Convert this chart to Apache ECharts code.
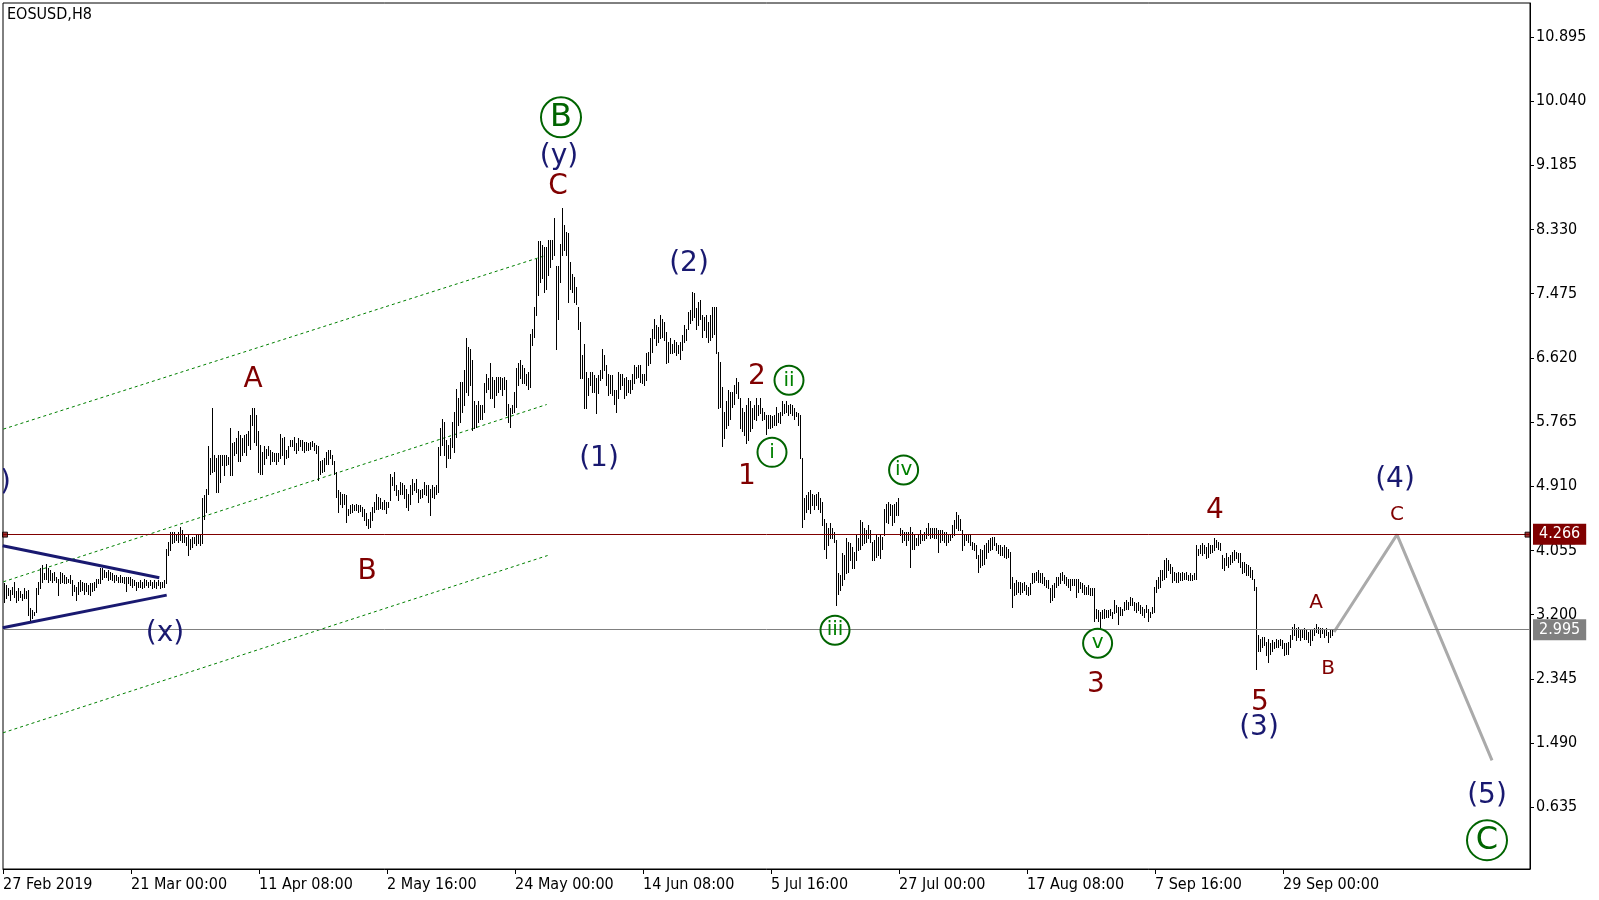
<!DOCTYPE html>
<html>
<head>
<meta charset="utf-8">
<title>EOSUSD,H8</title>
<script src="https://cdn.jsdelivr.net/npm/echarts@6.0.0/dist/echarts.min.js"></script>
<style>
html, body { margin: 0; padding: 0; background: #fff; }
#chart { width: 1599px; height: 900px; }
</style>
</head>
<body>
<div id="chart"></div>
<script>
'use strict';

// time axis labels, one every 64 bars (H8)
var tickLabels = ['27 Feb 2019', '21 Mar 00:00', '11 Apr 08:00', '2 May 16:00', '24 May 00:00',
    '14 Jun 08:00', '5 Jul 16:00', '27 Jul 00:00', '17 Aug 08:00', '7 Sep 16:00', '29 Sep 00:00'];
var priceTicks = [0.635, 1.490, 2.345, 3.200, 4.055, 4.910, 5.765, 6.620, 7.475, 8.330, 9.185, 10.040, 10.895];

// bar highs / lows
var barHigh = [
    3.62,3.59,3.55,3.53,3.57,3.64,3.51,3.55,3.51,3.48,
    3.55,3.51,3.53,3.29,3.26,3.24,3.55,3.64,3.82,3.86,
    3.75,3.88,3.82,3.79,3.75,3.77,3.70,3.68,3.77,3.75,
    3.73,3.70,3.68,3.73,3.66,3.59,3.57,3.64,3.66,3.64,
    3.62,3.62,3.59,3.62,3.62,3.64,3.68,3.68,3.82,3.82,
    3.79,3.77,3.79,3.77,3.75,3.73,3.73,3.70,3.73,3.70,
    3.70,3.70,3.70,3.70,3.68,3.66,3.64,3.64,3.66,3.64,
    3.68,3.66,3.64,3.66,3.64,3.66,3.64,3.66,3.64,3.64,
    3.66,4.08,4.17,4.30,4.30,4.30,4.28,4.30,4.37,4.33,
    4.28,4.24,4.26,4.21,4.24,4.24,4.26,4.26,4.26,4.75,
    4.79,4.88,5.44,5.28,5.95,5.32,5.28,5.32,5.32,5.32,
    5.32,5.32,5.30,5.68,5.48,5.50,5.55,5.64,5.59,5.55,
    5.59,5.61,5.64,5.86,5.95,5.95,5.86,5.64,5.46,5.37,
    5.44,5.41,5.44,5.39,5.37,5.35,5.35,5.35,5.61,5.55,
    5.57,5.39,5.44,5.52,5.52,5.57,5.48,5.55,5.52,5.52,
    5.50,5.50,5.48,5.50,5.51,5.48,5.46,5.44,5.24,5.26,
    5.28,5.37,5.39,
    5.39,5.33,5.24,5.10,4.86,4.84,4.81,4.81,4.79,4.61,
    4.66,4.68,4.66,4.67,4.66,4.66,4.64,4.61,4.55,4.48,
    4.57,4.64,4.70,4.81,4.77,4.75,4.70,4.73,4.70,4.70,
    5.08,5.04,5.10,4.93,4.86,4.97,4.95,4.93,4.88,4.81,
    4.93,5.01,4.95,5.01,4.88,4.86,4.88,4.97,4.93,4.93,
    4.88,4.93,4.90,4.93,5.43,5.68,5.81,5.77,5.52,5.46,
    5.55,5.77,5.90,6.21,6.08,6.30,6.30,6.46,6.88,6.77,
    6.74,6.59,6.04,5.99,6.04,5.99,5.99,6.28,6.41,6.35,
    6.55,6.37,6.32,6.37,6.37,6.37,6.35,6.37,6.32,6.01,
    5.95,5.99,6.17,6.48,6.55,6.59,6.52,6.48,6.41,6.43,
    6.94,7.01,7.30,7.94,8.17,8.17,8.12,8.10,8.10,8.19,
    8.19,8.19,8.48,7.85,7.85,8.14,8.61,8.39,8.30,8.28,
    7.90,7.74,7.70,7.57,7.30,7.10,6.66,6.81,6.43,6.35,
    6.43,6.43,6.39,6.35,6.39,6.46,6.74,6.66,6.52,6.41,
    6.39,6.39,6.19,6.19,6.43,6.41,6.41,6.35,6.37,6.32,
    6.32,6.41,6.52,6.50,6.52,6.52,6.41,6.41,6.68,6.70,
    6.88,7.01,7.14,7.06,7.03,
    7.19,7.14,7.10,6.97,6.83,6.88,6.81,6.86,6.83,6.79,
    6.83,6.92,7.06,7.01,7.23,7.26,7.50,7.48,7.28,7.37,
    7.39,7.19,7.17,7.19,7.10,7.19,7.30,7.30,7.30,6.70,
    6.57,6.23,5.90,6.04,6.19,6.17,6.17,6.26,6.35,6.30,
    6.08,5.95,5.90,5.99,6.08,6.04,5.95,5.99,6.08,5.99,
    6.08,5.95,5.90,5.86,5.86,5.86,5.84,5.86,5.97,5.88,
    5.90,6.04,6.01,6.04,5.99,6.01,5.99,5.95,5.90,5.88,
    5.86,5.28,4.75,4.79,4.84,4.86,4.81,4.79,4.81,4.84,
    4.75,4.70,4.48,4.42,4.35,4.42,4.35,4.30,4.19,3.75,
    3.73,4.02,3.99,4.22,4.17,4.15,4.10,4.04,4.28,4.22,
    4.46,4.44,4.35,4.33,4.39,4.33,4.17,4.19,4.26,4.24,
    4.26,4.24,4.61,4.68,4.70,4.68,4.66,4.68,4.70,4.75,
    4.35,4.33,4.30,4.30,4.30,4.37,4.30,4.26,4.22,4.28,
    4.33,4.28,4.30,4.35,4.42,4.35,4.35,4.35,4.35,4.33,
    4.33,4.33,4.30,4.30,4.28,4.28,4.39,4.46,4.57,4.53,
    4.48,4.33,4.28,4.26,4.28,4.26,4.17,4.15,4.13,3.99,
    4.08,4.06,4.13,4.15,4.19,
    4.22,4.24,4.24,4.15,4.13,4.13,4.10,4.13,4.10,4.08,
    4.04,3.70,3.62,3.66,3.64,3.64,3.62,3.64,3.59,3.57,
    3.62,3.75,3.75,3.77,3.79,3.75,3.75,3.70,3.66,3.66,
    3.55,3.59,3.62,3.70,3.70,3.75,3.77,3.73,3.70,3.68,
    3.68,3.68,3.68,3.68,3.68,3.64,3.62,3.59,3.57,3.59,
    3.55,3.55,3.55,3.28,3.26,3.24,3.26,3.28,3.26,3.26,
    3.28,3.24,3.39,3.33,3.30,3.30,3.28,3.37,3.39,3.37,
    3.44,3.42,3.37,3.35,3.37,3.33,3.30,3.28,3.33,3.28,
    3.24,3.30,3.57,3.66,3.70,3.79,3.79,3.93,3.95,3.93,
    3.88,3.84,3.77,3.75,3.77,3.75,3.77,3.75,3.77,3.73,
    3.75,3.73,3.75,4.13,4.08,4.13,4.15,4.13,4.10,4.15,
    4.13,4.13,4.22,4.19,4.17,4.15,3.99,3.95,4.02,3.97,
    3.99,4.04,4.06,4.04,4.02,4.02,3.90,3.90,3.88,3.86,
    3.84,3.79,3.68,3.57,2.93,2.88,2.90,2.90,2.84,2.88,
    2.82,2.86,2.84,2.88,2.86,2.88,2.86,2.82,2.82,2.84,
    2.93,3.04,3.08,3.02,3.04,2.99,2.99,3.02,2.99,2.97,
    2.99,2.99,3.02,3.08,3.04,
    3.02,3.02,2.99,3.02,2.97,2.99,2.99
];
var barLow = [
    3.37,3.42,3.46,3.39,3.48,3.44,3.37,3.39,3.44,3.39,
    3.42,3.42,3.19,3.13,3.15,3.19,3.24,3.48,3.55,3.64,
    3.68,3.68,3.64,3.66,3.64,3.66,3.64,3.46,3.62,3.64,
    3.62,3.62,3.64,3.62,3.46,3.51,3.39,3.48,3.51,3.53,
    3.48,3.51,3.48,3.46,3.51,3.53,3.57,3.62,3.62,3.68,
    3.70,3.70,3.66,3.68,3.66,3.64,3.66,3.64,3.64,3.64,
    3.62,3.51,3.62,3.59,3.57,3.59,3.53,3.57,3.57,3.55,
    3.57,3.59,3.57,3.59,3.55,3.57,3.55,3.59,3.55,3.57,
    3.57,3.62,3.99,4.06,4.15,4.17,4.19,4.17,4.19,4.17,
    4.17,4.13,3.99,4.08,4.10,4.15,4.13,4.15,4.13,4.15,
    4.48,4.57,4.81,5.08,5.10,5.12,4.84,4.84,4.97,5.19,
    5.06,5.19,5.21,5.06,5.06,5.32,5.35,5.24,5.24,5.32,
    5.37,5.32,5.46,5.41,5.72,5.50,5.46,5.10,5.08,5.08,
    5.21,5.28,5.32,5.21,5.24,5.24,5.21,5.24,5.28,5.32,
    5.21,5.28,5.30,5.44,5.44,5.39,5.35,5.39,5.44,5.39,
    5.37,5.39,5.39,5.41,5.44,5.39,5.35,4.99,5.08,5.10,
    5.12,5.21,5.21,
    5.28,5.21,5.08,4.77,4.57,4.68,4.64,4.68,4.44,4.53,
    4.55,4.57,4.59,4.59,4.57,4.58,4.51,4.46,4.39,4.35,
    4.37,4.46,4.57,4.61,4.61,4.62,4.61,4.61,4.55,4.64,
    4.73,4.93,4.86,4.79,4.73,4.81,4.81,4.75,4.64,4.59,
    4.68,4.81,4.86,4.84,4.70,4.75,4.77,4.81,4.79,4.70,
    4.53,4.77,4.75,4.81,4.84,5.32,5.46,5.32,5.17,5.28,
    5.28,5.43,5.37,5.57,5.72,5.77,5.90,5.99,6.17,6.12,
    6.26,5.66,5.68,5.70,5.77,5.81,5.81,5.90,6.17,6.21,
    6.08,6.08,5.97,6.12,6.17,6.21,6.12,6.21,5.86,5.77,
    5.70,5.88,5.90,5.97,6.26,6.35,6.28,6.28,6.26,6.21,
    6.23,6.79,6.90,7.19,7.46,7.63,7.68,7.50,7.54,7.72,
    7.83,7.94,7.99,6.74,7.14,7.63,7.99,8.05,7.99,7.37,
    7.54,7.50,7.37,7.34,7.01,6.35,6.35,5.95,5.95,6.12,
    6.26,6.17,6.17,5.88,6.15,6.32,6.35,6.46,6.26,6.12,
    6.15,6.12,6.01,5.90,6.08,6.21,6.26,6.08,6.12,6.17,
    6.15,6.21,6.28,6.35,6.37,6.30,6.28,6.26,6.32,6.52,
    6.55,6.70,6.88,6.79,6.83,
    6.88,6.90,6.86,6.55,6.57,6.68,6.68,6.70,6.66,6.68,
    6.61,6.72,6.83,6.86,7.01,7.08,7.12,7.17,7.01,7.06,
    7.14,6.90,6.99,6.90,6.83,6.86,6.90,6.94,6.68,5.95,
    5.97,5.44,5.55,5.68,5.72,5.81,5.97,6.01,6.15,6.08,
    5.68,5.64,5.59,5.48,5.52,5.64,5.68,5.81,5.79,5.86,
    5.88,5.79,5.81,5.61,5.68,5.68,5.70,5.72,5.72,5.77,
    5.75,5.86,5.88,5.90,5.86,5.88,5.86,5.81,5.84,5.72,
    5.28,4.37,4.48,4.57,4.61,4.55,4.66,4.61,4.66,4.61,
    4.57,4.39,4.08,3.95,4.13,4.22,4.22,4.17,3.33,3.48,
    3.53,3.59,3.68,3.75,3.77,3.93,3.82,3.82,3.93,4.06,
    4.08,4.13,4.15,4.17,4.22,4.17,3.93,3.93,3.97,3.99,
    3.95,4.08,4.26,4.44,4.42,4.53,4.39,4.44,4.53,4.53,
    4.26,4.17,4.19,4.13,4.19,3.84,4.08,4.08,4.13,4.13,
    4.15,4.19,4.19,4.22,4.26,4.22,4.24,4.22,4.22,4.04,
    4.17,4.19,4.17,4.13,4.17,4.19,4.24,4.26,4.35,4.33,
    4.33,4.06,4.13,4.19,4.17,4.13,4.08,4.06,3.95,3.77,
    3.84,3.86,3.88,3.95,4.04,
    4.06,4.08,4.13,4.06,4.02,3.99,3.99,3.97,3.95,3.97,
    3.55,3.30,3.46,3.48,3.50,3.48,3.50,3.53,3.48,3.46,
    3.48,3.62,3.64,3.66,3.64,3.64,3.62,3.59,3.57,3.55,
    3.37,3.39,3.44,3.57,3.59,3.62,3.66,3.62,3.59,3.57,
    3.53,3.59,3.59,3.44,3.50,3.55,3.50,3.48,3.48,3.48,
    3.46,3.46,3.11,3.15,3.11,3.04,3.15,3.15,3.17,3.17,
    3.19,3.15,3.22,3.24,3.08,3.19,3.19,3.26,3.28,3.28,
    3.33,3.33,3.26,3.24,3.26,3.22,3.19,3.17,3.24,3.11,
    3.17,3.22,3.24,3.50,3.55,3.57,3.66,3.68,3.70,3.79,
    3.75,3.64,3.66,3.64,3.64,3.66,3.66,3.68,3.68,3.66,
    3.66,3.66,3.68,3.68,3.99,4.02,3.99,4.02,3.95,3.97,
    4.02,4.04,4.06,4.10,4.08,4.06,3.82,3.79,3.86,3.84,
    3.88,3.90,3.93,3.95,3.90,3.84,3.75,3.77,3.73,3.73,
    3.70,3.68,3.53,2.48,2.71,2.71,2.77,2.80,2.66,2.57,
    2.68,2.71,2.75,2.77,2.77,2.80,2.75,2.66,2.68,2.68,
    2.77,2.88,2.93,2.86,2.90,2.86,2.90,2.88,2.88,2.84,
    2.80,2.86,2.93,2.97,2.95,
    2.90,2.95,2.90,2.93,2.84,2.90,2.93
];

var levelPrice = 4.266;   // horizontal line
var bidPrice = 2.995;     // current bid

// drawn objects: [bar index, price]
var forecastPath = [[665, 2.97], [696.5, 4.266], [744, 1.26]];
var triangleUpper = [[-0.65, 4.117], [77.65, 3.691]];
var triangleLower = [[-0.65, 3.026], [81.35, 3.46]];
var channelTop = [[-0.35, 5.671], [271.35, 7.988]];
var channelMid = [[-0.35, 3.638], [271.35, 5.999]];
var channelLow = [[-0.5, 1.627], [271.8, 3.988]];
var lineAnchors = [[0.5, 4.266], [761.75, 4.266]];

// wave marks
var waveText = ['B', '(y)', 'C', 'A', 'B', '(x)', '(w)', '(2)', '(1)', '2', 'ii', 'i', '1', 'iv', 'iii',
    'v', '3', '4', '5', '(3)', 'A', 'B', '(4)', 'C', '(5)', 'C'];
var waveX = [278.5, 277.5, 277, 124.5, 181.5, 80.5, 3.5, 342.5, 297.5, 376.5, 392.5, 384, 371.5, 449.8, 415.5,
    546.8, 546, 605.5, 628, 627.5, 656, 662, 695.5, 696.5, 741.5, 741.5];
var waveY = [9.823, 9.304, 8.904, 6.334, 3.778, 2.952, 4.963, 7.879, 5.282, 6.374, 6.321, 5.362, 5.043, 5.127, 2.992,
    2.819, 2.273, 4.590, 2.034, 1.701, 3.352, 2.473, 5.003, 4.524, 0.795, 0.196];
var waveKind = ['circled', 'navy', 'red', 'red', 'red', 'navy', 'edge', 'navy', 'navy', 'red', 'roman', 'roman', 'red', 'roman', 'roman',
    'roman', 'red', 'red', 'red', 'navy', 'redSmall', 'redSmall', 'navy', 'redSmall', 'navy', 'circled'];

var labelStyle = {
    navy: { color: '#191970', size: 28 },
    edge: { color: '#191970', size: 28, align: 'right' },
    red: { color: '#800000', size: 28 },
    redSmall: { color: '#800000', size: 20 },
    roman: { color: '#008000', size: 20, r: 14.5 },
    circled: { color: '#006400', size: 32, r: 20 }
};

var axisFont = '"DejaVu Sans Condensed", "Liberation Sans", sans-serif';

var renderBar = function(params, api) {
    var top = api.coord([api.value(0), api.value(1)]);
    var bottom = api.coord([api.value(0), api.value(2)]);
    var x = Math.round(top[0]) + 0.5;
    return {
        type: 'line',
        shape: { x1: x, y1: Math.round(top[1]), x2: x, y2: Math.round(bottom[1]) + 1 },
        style: { stroke: '#000', lineWidth: 1 }
    };
};

var renderWave = function(params, api) {
    var k = params.dataIndex;
    var pt = api.coord([api.value(0), api.value(1)]);
    var st = labelStyle[waveKind[k]];
    var children = [];
    if (st.r) {
        children.push({
            type: 'circle',
            shape: { cx: pt[0], cy: pt[1], r: st.r },
            style: { fill: 'none', stroke: '#006400', lineWidth: 2 }
        });
    }
    children.push({
        type: 'text',
        x: pt[0],
        y: pt[1],
        style: {
            text: waveText[k],
            fill: st.color,
            fontSize: st.size,
            fontFamily: 'DejaVu Sans',
            align: st.align || 'center',
            verticalAlign: 'middle'
        }
    });
    return { type: 'group', children: children };
};

var guideLine = function(data, color, width, type) {
    return {
        type: 'line',
        data: data,
        symbol: 'none',
        silent: true,
        lineStyle: { color: color, width: width, type: type },
        z: 2
    };
};

var priceTag = function(price, color) {
    return {
        yAxis: price,
        lineStyle: { color: color, width: 1, type: 'solid' },
        label: {
            show: true,
            position: 'end',
            distance: 3,
            formatter: price.toFixed(3),
            backgroundColor: color,
            color: '#fff',
            padding: [3, 6, 2, 6],
            fontFamily: axisFont,
            fontSize: 16
        }
    };
};

var xTicks = tickLabels.map(function(t, k) { return -0.5 + 64 * k; });

var myChart = echarts.init(document.getElementById('chart'));
var option = {
    animation: false,
    backgroundColor: '#fff',
    title: {
        text: 'EOSUSD,H8',
        left: 7,
        top: 7,
        padding: 0,
        textStyle: { fontSize: 16, fontWeight: 'normal', color: '#000', fontFamily: axisFont }
    },
    grid: {
        left: 3, right: 69, top: 3, bottom: 31,
        show: true, borderColor: '#000', borderWidth: 1, backgroundColor: '#fff'
    },
    xAxis: {
        type: 'value',
        min: -0.5,
        max: 763,
        axisLine: { show: true, onZero: false, lineStyle: { color: '#000', width: 1 } },
        axisTick: { show: true, customValues: xTicks, length: 5, lineStyle: { color: '#000' } },
        axisLabel: {
            customValues: xTicks,
            align: 'left',
            margin: 8,
            color: '#000',
            fontFamily: axisFont,
            fontSize: 16,
            formatter: function(v) {
                return tickLabels[Math.round((v + 0.5) / 64)] || '';
            }
        },
        splitLine: { show: false }
    },
    yAxis: {
        type: 'value',
        position: 'right',
        min: -0.187,
        max: 11.346,
        axisLine: { show: true, onZero: false, lineStyle: { color: '#000', width: 1 } },
        axisTick: { show: true, customValues: priceTicks, length: 4, lineStyle: { color: '#000' } },
        axisLabel: {
            customValues: priceTicks,
            margin: 6,
            color: '#000',
            fontFamily: axisFont,
            fontSize: 16,
            formatter: function(v) { return v.toFixed(3); }
        },
        splitLine: { show: false }
    },
    series: [
        guideLine(channelTop, '#008000', 1, [3, 3]),
        guideLine(channelMid, '#008000', 1, [3, 3]),
        guideLine(channelLow, '#008000', 1, [3, 3]),
        guideLine(triangleUpper, '#191970', 3, 'solid'),
        guideLine(triangleLower, '#191970', 3, 'solid'),
        {
            type: 'line',
            data: forecastPath,
            symbol: 'none',
            silent: true,
            lineStyle: { color: '#aaaaaa', width: 3 },
            z: 3,
            markLine: {
                silent: true,
                symbol: ['none', 'none'],
                animation: false,
                data: [priceTag(levelPrice, '#800000'), priceTag(bidPrice, '#808080')]
            }
        },
        {
            type: 'custom',
            renderItem: renderBar,
            data: barHigh.map(function(h, k) { return [k, h, barLow[k]]; }),
            encode: { x: 0, y: [1, 2] },
            silent: true,
            z: 4
        },
        {
            type: 'scatter',
            data: lineAnchors,
            symbol: 'rect',
            symbolSize: 5,
            silent: true,
            itemStyle: { color: '#800000', borderColor: '#000', borderWidth: 1 },
            z: 5
        },
        {
            type: 'custom',
            renderItem: renderWave,
            data: waveX.map(function(x, k) { return [x, waveY[k]]; }),
            encode: { x: 0, y: 1 },
            clip: true,
            silent: true,
            z: 6
        }
    ]
};
myChart.setOption(option);
</script>
</body>
</html>
